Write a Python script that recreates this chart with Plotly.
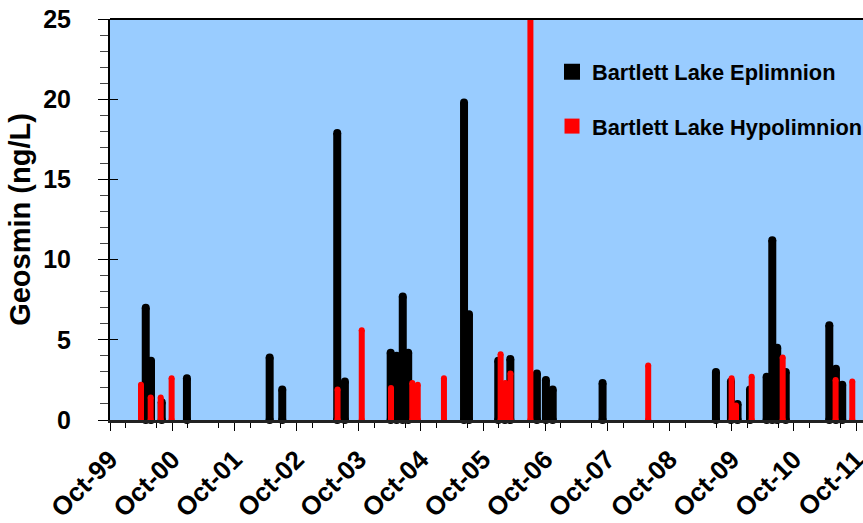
import plotly.graph_objects as go

# ---- data ----
epi_dates = ["2000-04-28", "2000-05-29", "2000-07-31", "2000-12-26", "2002-04-26", "2002-07-09",
             "2003-05-28", "2003-07-12", "2004-04-06", "2004-05-11", "2004-06-16", "2004-07-18",
             "2005-06-11", "2005-07-10", "2005-12-29", "2006-02-06", "2006-03-10", "2006-08-13",
             "2006-10-05", "2006-11-14", "2007-09-03", "2009-06-30", "2009-09-26", "2009-11-04",
             "2010-01-16", "2010-04-24", "2010-05-27", "2010-06-25", "2010-08-14", "2011-04-27",
             "2011-06-05", "2011-07-12"]
epi_vals = [7.0, 3.7, 1.1, 2.6, 3.9, 1.9,
            17.9, 2.4, 4.2, 4.0, 7.7, 4.2,
            19.8, 6.6, 3.7, 2.2, 3.8, 2.9,
            2.5, 1.9, 2.3, 3.0, 2.4, 1.0,
            1.9, 2.7, 11.2, 4.5, 3.0, 5.9,
            3.2, 2.2]

hypo_dates = ["2000-03-31", "2000-05-27", "2000-07-25", "2000-09-27", "2003-05-30", "2003-10-19",
              "2004-04-08", "2004-08-11", "2004-09-12", "2005-02-13", "2006-01-12", "2006-02-09",
              "2006-03-11", "2006-07-06", "2008-05-28", "2009-09-30", "2009-10-26", "2010-01-26",
              "2010-07-27", "2011-06-03", "2011-09-09"]
hypo_vals = [2.2, 1.4, 1.4, 2.6, 1.9, 5.6,
             2.0, 2.3, 2.2, 2.6, 4.1, 2.3,
             2.9, 30.0, 3.4, 2.6, 0.9, 2.7,
             3.9, 2.5, 2.4]

series_names = ["Bartlett Lake Eplimnion", "Bartlett Lake Hypolimnion"]
x_range = ["1999-10-01", "2011-11-11"]
y_range = [0, 25]

FONT = "Liberation Sans, Arial, sans-serif"

def stems(dates, vals):
    xs, ys = [], []
    for d, v in zip(dates, vals):
        xs += [d, d, None]
        ys += [0, v, None]
    return xs, ys

fig = go.Figure()

for name, dates, vals, color, w, grp in [
    (series_names[0], epi_dates, epi_vals, "#000000", 8, "a"),
    (series_names[1], hypo_dates, hypo_vals, "#FF0000", 6, "b"),
]:
    xs, ys = stems(dates, vals)
    fig.add_trace(go.Scatter(x=xs, y=ys, mode="lines", line=dict(color=color, width=w),
                             showlegend=False, hoverinfo="skip", legendgroup=grp))
    # rounded caps on top
    fig.add_trace(go.Scatter(x=dates, y=vals, mode="markers",
                             marker=dict(color=color, size=w, symbol="circle", line=dict(width=0)),
                             showlegend=False, hoverinfo="skip", legendgroup=grp))
    # rounded caps at bottom
    fig.add_trace(go.Scatter(x=dates, y=[0] * len(dates), mode="markers", cliponaxis=False,
                             marker=dict(color=color, size=w, symbol="circle", line=dict(width=0)),
                             showlegend=False, hoverinfo="skip", legendgroup=grp))

# legend entries
fig.add_trace(go.Scatter(x=[None], y=[None], mode="markers", name=series_names[0], legendgroup="a",
                         marker=dict(symbol="square", size=18, color="#000000")))
fig.add_trace(go.Scatter(x=[None], y=[None], mode="markers", name=series_names[1], legendgroup="b",
                         marker=dict(symbol="square", size=15, color="#FF0000")))

# helper trace for inner half of major y ticks
fig.add_trace(go.Scatter(x=[x_range[0]], y=[0], yaxis="y2", mode="markers",
                         marker=dict(opacity=0), showlegend=False, hoverinfo="skip"))

fig.update_layout(
    width=863, height=523,
    margin=dict(l=110, r=0, t=19, b=103, autoexpand=False),
    paper_bgcolor="white",
    plot_bgcolor="#99CCFF",
    font=dict(family=FONT, color="black"),
    showlegend=True,
    legend=dict(x=0.587, y=0.92, xanchor="left", yanchor="top",
                bgcolor="rgba(0,0,0,0)", font=dict(size=21.8, weight="bold", family=FONT),
                tracegroupgap=23, itemwidth=30, itemsizing="trace"),
    xaxis=dict(
        type="date", range=x_range, automargin=False,
        tick0="1999-10-01", dtick="M12", tickformat="%b-%y",
        tickangle=-45, ticks="outside", ticklen=8, tickwidth=1, tickcolor="black",
        tickfont=dict(size=26, weight="bold", family=FONT),
        ticklabeloverflow="allow", ticklabelstandoff=3,
        minor=dict(dtick="M6", ticks="outside", ticklen=5, tickcolor="black", tickwidth=1),
        showgrid=False, zeroline=False,
        showline=True, linecolor="#222222", linewidth=3,
    ),
    yaxis=dict(
        range=y_range, dtick=5, tick0=0, automargin=False,
        ticks="outside", ticklen=10, tickwidth=1, tickcolor="black",
        tickfont=dict(size=25, weight="bold", family=FONT),
        ticklabelstandoff=22,
        minor=dict(dtick=1, ticks="outside", ticklen=8, tickcolor="#444444", tickwidth=1),
        showgrid=False, zeroline=False,
        showline=True, linecolor="black", linewidth=2,
        title=dict(text="Geosmin (ng/L)", font=dict(size=29, weight="bold", family=FONT), standoff=4),
    ),
    yaxis2=dict(
        range=y_range, dtick=5, tick0=0, overlaying="y", side="left", anchor="x", automargin=False,
        ticks="inside", ticklen=8, tickwidth=1, tickcolor="black",
        showticklabels=False, showgrid=False, zeroline=False, showline=False,
    ),
    shapes=[dict(type="line", xref="paper", yref="paper", x0=0, x1=1, y0=1, y1=1,
                 line=dict(color="black", width=2))],
)

fig.write_html("out.html")
